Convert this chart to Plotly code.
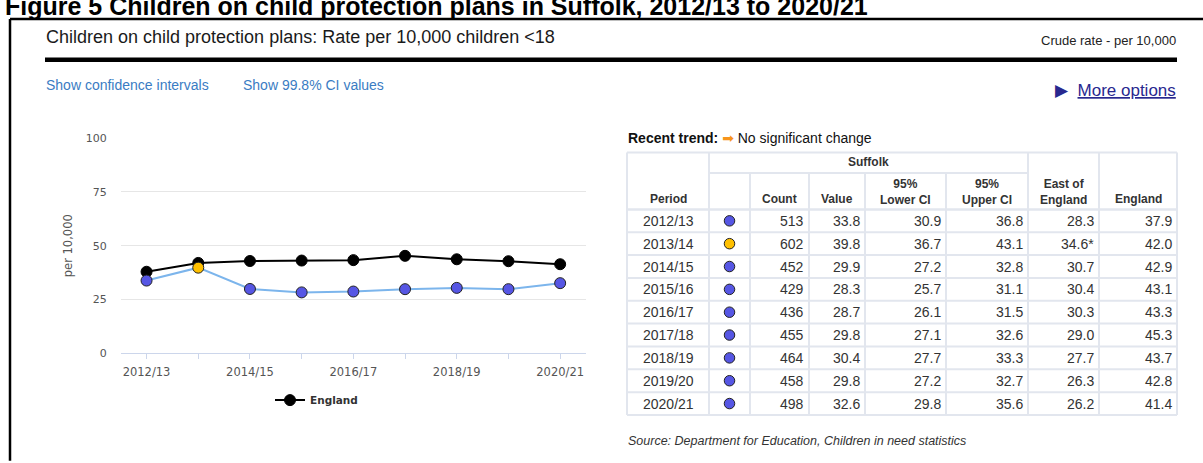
import plotly.graph_objects as go

# ---------------- data ----------------
periods = ["2012/13", "2013/14", "2014/15", "2015/16", "2016/17",
           "2017/18", "2018/19", "2019/20", "2020/21"]
suffolk_count = [513, 602, 452, 429, 436, 455, 464, 458, 498]
suffolk_value = [33.8, 39.8, 29.9, 28.3, 28.7, 29.8, 30.4, 29.8, 32.6]
suffolk_lower_ci = [30.9, 36.7, 27.2, 25.7, 26.1, 27.1, 27.7, 27.2, 29.8]
suffolk_upper_ci = [36.8, 43.1, 32.8, 31.1, 31.5, 32.6, 33.3, 32.7, 35.6]
east_of_england = [28.3, 34.6, 30.7, 30.4, 30.3, 29.0, 27.7, 26.3, 26.2]
east_of_england_note = ["", "*", "", "", "", "", "", "", ""]
england = [37.9, 42.0, 42.9, 43.1, 43.3, 45.3, 43.7, 42.8, 41.4]
comparison = ["lower", "similar", "lower", "lower", "lower",
              "lower", "lower", "lower", "lower"]
y_tick_values = [0, 25, 50, 75, 100]

# ---------------- style ----------------
W, H = 1203, 463
COMPARE_COLORS = {"lower": "#5656e4", "similar": "#ffc000"}
ARIAL = "Liberation Sans, Arial, sans-serif"
CHART_FONT = "DejaVu Sans, Verdana, sans-serif"
GRID_LINE = "#e2e6ee"


def px(x):
    return x / W


def py(y):
    return 1 - y / H


fig = go.Figure()

# ---------------- chart ----------------
fig.add_trace(go.Scatter(
    x=periods, y=england, mode="lines+markers", name="England",
    line=dict(color="#000000", width=2),
    marker=dict(color="#000000", size=11, line=dict(color="#000000", width=1)),
    hoverinfo="skip", cliponaxis=False,
))
fig.add_trace(go.Scatter(
    x=periods, y=suffolk_value, mode="lines+markers", name="Suffolk",
    line=dict(color="#7cb5ec", width=2),
    marker=dict(color=[COMPARE_COLORS[c] for c in comparison], size=11,
                line=dict(color="#222222", width=1)),
    showlegend=False, hoverinfo="skip", cliponaxis=False,
))

# table markers on a pixel-based overlay axis
col_edges = [627, 709, 750, 809, 865, 946, 1028, 1099, 1177]
table_top, sub_div, header_bottom, row_h = 150.7, 171.7, 209.3, 23.5
row_centers = [header_bottom + row_h * (i + 0.5) for i in range(len(periods))]
marker_x = (col_edges[1] + col_edges[2]) / 2

fig.add_trace(go.Scatter(
    x=[marker_x] * len(periods), y=row_centers, mode="markers",
    marker=dict(color=[COMPARE_COLORS[c] for c in comparison], size=10.5,
                line=dict(color="#222222", width=1)),
    xaxis="x2", yaxis="y2", showlegend=False, hoverinfo="skip",
))

tick_text = [p if i % 2 == 0 else "" for i, p in enumerate(periods)]

fig.update_layout(
    width=W, height=H,
    margin=dict(l=0, r=0, t=0, b=0),
    paper_bgcolor="white", plot_bgcolor="rgba(0,0,0,0)",
    xaxis=dict(
        type="category", categoryorder="array", categoryarray=periods,
        range=[-0.5, len(periods) - 0.5],
        domain=[px(120.7), px(586)],
        showline=True, linecolor="#ccd6eb", linewidth=1,
        ticks="outside", ticklen=5, tickcolor="#ccd6eb", tickwidth=1,
        tickvals=periods, ticktext=tick_text,
        tickfont=dict(family=CHART_FONT, size=11.5, color="#555555"),
        ticklabelstandoff=3,
        showgrid=False, zeroline=False, fixedrange=True,
    ),
    yaxis=dict(
        range=[0, 100], domain=[py(357.3), py(136)],
        tickvals=y_tick_values,
        showgrid=True, gridcolor="#e6e6e6", gridwidth=1,
        zeroline=False, showline=False, ticks="",
        tickfont=dict(family=CHART_FONT, size=11, color="#555555"),
        ticklabelstandoff=13,
        title=dict(text="per 10,000", standoff=10,
                   font=dict(family=CHART_FONT, size=11.5, color="#555555")),
        fixedrange=True,
    ),
    xaxis2=dict(domain=[0, 1], range=[0, W], visible=False, anchor="y2",
                fixedrange=True),
    yaxis2=dict(domain=[0, 1], range=[H, 0], visible=False, anchor="x2",
                fixedrange=True),
    showlegend=True,
    legend=dict(
        orientation="h", x=px(270), xanchor="left",
        y=py(405.5), yanchor="middle",
        font=dict(family=CHART_FONT, size=10.5, color="#333333", weight="bold"),
        bgcolor="rgba(0,0,0,0)",
    ),
)

shapes = []
annotations = []


def line(x0, y0, x1, y1, color, width):
    shapes.append(dict(type="line", xref="paper", yref="paper",
                       x0=px(x0), y0=py(y0), x1=px(x1), y1=py(y1),
                       line=dict(color=color, width=width)))


def text(s, x, y, size, color="#333333", family=ARIAL, xanchor="left",
         yanchor="middle", align="left"):
    annotations.append(dict(text=s, x=px(x), y=py(y), xref="paper", yref="paper",
                            xanchor=xanchor, yanchor=yanchor, align=align,
                            showarrow=False,
                            font=dict(family=family, size=size, color=color)))


# page frame & headings
text("<b>Figure 5 Children on child protection plans in Suffolk, 2012/13 to 2020/21</b>",
     3, 16, 25, color="#000000", yanchor="bottom")
line(10, 13.5, W + 5, 13.5, "#000000", 2.5)
line(10, 13.5, 10, H + 5, "#000000", 2.5)
text("Children on child protection plans: Rate per 10,000 children &lt;18",
     44, 32, 18, color="#1a1a1a")
text("Crude rate - per 10,000", 1178, 35, 13, color="#222222", xanchor="right")
shapes.append(dict(type="rect", xref="paper", yref="paper",
                   x0=px(45), x1=px(1177), y0=py(53), y1=py(57.5),
                   fillcolor="#000000", line=dict(width=0)))
text("Show confidence intervals", 44, 81, 14, color="#3a7cc3")
text("Show 99.8% CI values", 241, 81, 14, color="#3a7cc3")
text("<span style='font-family:DejaVu Sans'>▶</span>  <u>More options</u>",
     1178, 86, 17, color="#28288f", xanchor="right")

# recent trend
text("<b>Recent trend:</b> <span style='color:#f7941d;font-family:DejaVu Sans'>➡</span> No significant change",
     626, 136, 14, color="#111111")

# table grid
x_left, x_right = col_edges[0], col_edges[-1]
table_bottom = header_bottom + row_h * len(periods)
line(x_left, table_top, x_right, table_top, GRID_LINE, 2)
line(col_edges[1], sub_div, col_edges[6], sub_div, GRID_LINE, 2)
line(x_left, header_bottom, x_right, header_bottom, GRID_LINE, 2.5)
for i in range(1, len(periods) + 1):
    yb = header_bottom + row_h * i
    line(x_left, yb, x_right, yb, GRID_LINE, 2)
for j, xe in enumerate(col_edges):
    top = table_top if j in (0, 1, 6, 7, 8) else sub_div
    line(xe, top, xe, table_bottom, GRID_LINE, 2)

# table headers
hdr_font = 12
text("<b>Suffolk</b>", (col_edges[1] + col_edges[6]) / 2, 161, hdr_font,
     xanchor="center", align="center")
headers = [(0, "Period"), (2, "Count"), (3, "Value"), (4, "95%<br>Lower CI"),
           (5, "95%<br>Upper CI"), (6, "East of<br>England"), (7, "England")]
for j, h in headers:
    cx = (col_edges[j] + col_edges[j + 1]) / 2
    yc = 191 if "<br>" in h else 199
    text("<b>" + h.replace("<br>", "</b><br><b>") + "</b>", cx, yc, hdr_font,
         xanchor="center", align="center")

# table body
for i, p in enumerate(periods):
    yc = row_centers[i]
    text(p, (col_edges[0] + col_edges[1]) / 2, yc, 14, xanchor="center",
         align="center")
    cells = [f"{suffolk_count[i]}", f"{suffolk_value[i]:.1f}",
             f"{suffolk_lower_ci[i]:.1f}", f"{suffolk_upper_ci[i]:.1f}",
             f"{east_of_england[i]:.1f}{east_of_england_note[i]}",
             f"{england[i]:.1f}"]
    for k, c in enumerate(cells):
        text(c, col_edges[k + 3] - 3, yc, 14, xanchor="right", align="right")

text("<i>Source: Department for Education, Children in need statistics</i>",
     626, 448, 12.5, color="#333333")

fig.update_layout(shapes=shapes, annotations=annotations)

fig.write_html("out.html", include_plotlyjs=True, full_html=True,
               config={"displayModeBar": False, "staticPlot": True},
               post_script="document.body.style.margin='0';document.body.style.overflow='hidden';")
